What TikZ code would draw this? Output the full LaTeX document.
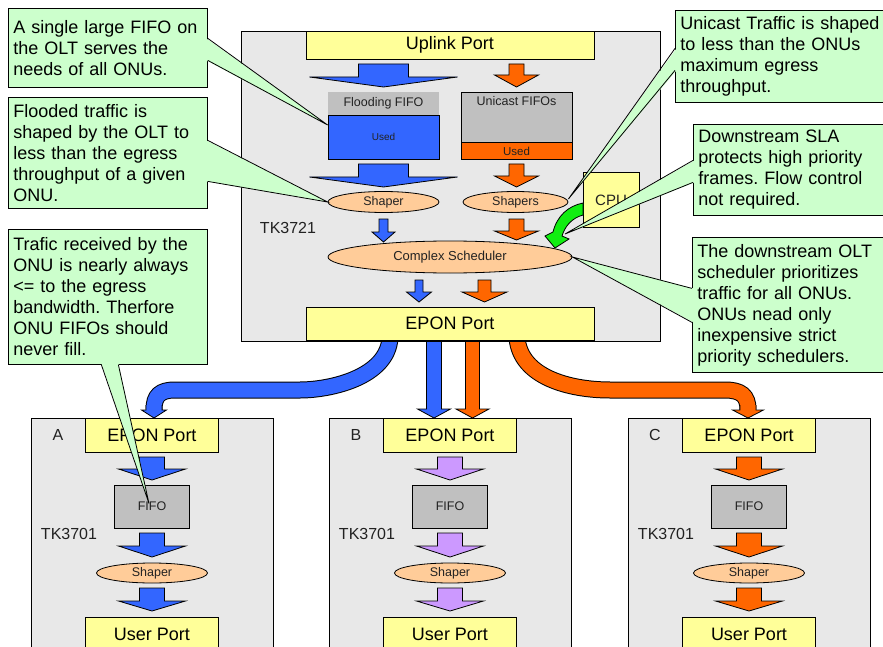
\documentclass[tikz,border=0pt]{standalone}
\usepackage{fontspec}
\setmainfont{Liberation Sans}
\usetikzlibrary{shapes.geometric,backgrounds}
\frenchspacing

\definecolor{chipgray}{HTML}{E8E8E8}
\definecolor{portyellow}{HTML}{FFFF99}
\definecolor{flowblue}{HTML}{3366FF}
\definecolor{floworange}{HTML}{FF6600}
\definecolor{flowpurple}{HTML}{CC99FF}
\definecolor{ovalpeach}{HTML}{FFCC99}
\definecolor{fifogray}{HTML}{C0C0C0}
\definecolor{notegreen}{HTML}{CCFFCC}
\definecolor{cpugreen}{HTML}{11EE11}
\definecolor{textgray}{HTML}{222222}

% flat block arrow: x, shaft half width, head half width, top, head base, tip, colour
\newcommand{\blockarrow}[7]{%
  \filldraw[fill=#7, draw=black] (#1-#2,#4) -- (#1+#2,#4) -- (#1+#2,#5) -- (#1+#3,#5)
    -- (#1,#6) -- (#1-#3,#5) -- (#1-#2,#5) -- cycle;}
% open arrow head on the end of a band: x, shaft half, head half, base, tip, colour
\newcommand{\tiphead}[6]{%
  \filldraw[fill=#6, draw=black] (#1-#2,#4-5) -- (#1-#2,#4) -- (#1-#3,#4) -- (#1,#5)
    -- (#1+#3,#4) -- (#1+#2,#4) -- (#1+#2,#4-5);}

\begin{document}
\begin{tikzpicture}[x=1pt, y=-1pt, line width=0.8pt,
  chip/.style={draw, fill=chipgray, inner sep=0pt},
  port/.style={draw, fill=portyellow, inner sep=0pt, font=\fontsize{18}{20}\selectfont},
  oval/.style={ellipse, draw, fill=ovalpeach, inner sep=0pt, text=textgray, font=\fontsize{12.5}{14}\selectfont},
  smalltxt/.style={inner sep=0pt, text=textgray, font=\fontsize{12.5}{14}\selectfont},
  tktxt/.style={inner sep=0pt, text=textgray, font=\fontsize{16}{18}\selectfont},
  note/.style={draw, fill=notegreen, anchor=north west, align=left, inner xsep=5pt, inner ysep=0pt, font=\fontsize{18}{21}\selectfont},
  bigflow/.style={draw=black, line width=1pt, double distance=15pt},
]
\useasboundingbox (0,0) rectangle (883,647);
\clip (0,0) rectangle (883,647);

% OLT
\node[chip, minimum width=419pt, minimum height=310pt] (olt) at (450.5,186) {};
\node[port, minimum width=288pt, minimum height=28pt] (uplink) at (450,45) {Uplink Port};
\node[port, minimum width=288pt, minimum height=33pt] (eponOLT) at (450,323.5) {EPON Port};
\node[tktxt] (oltname) at (288,228) {TK3721};

\node[fill=fifogray, minimum width=111pt, minimum height=23pt, smalltxt] (fifoF) at (383.5,103.5) {Flooding FIFO};
\node[draw, fill=flowblue, minimum width=111pt, minimum height=44pt, smalltxt, font=\fontsize{10}{12}\selectfont] (usedF) at (383.5,137) {Used};
\node[draw, fill=fifogray, minimum width=111pt, minimum height=67pt, anchor=north] (fifoU) at (516.5,92) {};
\node[smalltxt, anchor=north] (fifoUtext) at ([yshift=-4pt]fifoU.north) {Unicast FIFOs};
\node[draw, fill=floworange, minimum width=111pt, minimum height=17pt, anchor=south, smalltxt, font=\fontsize{11.5}{13}\selectfont] (usedU) at (fifoU.south) {Used};

\node[oval, minimum width=111pt, minimum height=21pt] (shapeF) at (383.5,202) {Shaper};
\node[oval, minimum width=105pt, minimum height=21pt] (shapeU) at (515.5,202) {Shapers};
\node[oval, minimum width=244pt, minimum height=32pt, font=\fontsize{13}{15}\selectfont] (sched) at (450,257) {Complex Scheduler};
\node[draw, fill=portyellow, minimum width=56pt, minimum height=55pt, inner sep=0pt, text=textgray, font=\fontsize{15}{17}\selectfont] (cpu) at (611,200) {CPU};

\blockarrow{383.5}{25}{74}{64}{77}{87}{flowblue}
\blockarrow{516.5}{7.5}{22}{64}{75}{87}{floworange}
\blockarrow{383.5}{25}{74}{164}{177}{187}{flowblue}
\blockarrow{516.5}{7.5}{22}{164}{176}{187}{floworange}
\blockarrow{383.5}{4.5}{11.5}{219}{232}{242}{flowblue}
\blockarrow{516.5}{7.5}{22}{219}{231}{240}{floworange}
\blockarrow{419}{4}{12.5}{280}{292}{302}{flowblue}
\blockarrow{484.5}{6.5}{22.5}{280}{292}{302}{floworange}

% CPU feeds the scheduler
\filldraw[fill=cpugreen, draw=black] (583,203) .. controls (568,206) and (557,216) .. (553,232)
  -- (545,236) -- (555,248) -- (569,239) -- (562,236) .. controls (565,226) and (572,218) .. (583,215) -- cycle;

% ONUs
\foreach \cx/\id/\tone in {152/A/flowblue, 450/B/flowpurple, 749/C/floworange}{
  \node[chip, minimum width=242pt, minimum height=250pt, anchor=north] (onu\id) at (\cx,418) {};
  \node[port, minimum width=133pt, minimum height=34pt] (epon\id) at (\cx,435) {EPON Port};
  \node[port, minimum width=133pt, minimum height=34pt] (user\id) at (\cx,634) {User Port};
  \node[draw, fill=fifogray, minimum width=75pt, minimum height=43pt, smalltxt] (fifo\id) at (\cx,506.5) {FIFO};
  \node[oval, minimum width=111pt, minimum height=20pt] (shaper\id) at (\cx,573) {Shaper};
  \node[tktxt] (tk\id) at (\cx-83,534) {TK3701};
  \node[tktxt] (tag\id) at (\cx-94,435) {\id};
  \blockarrow{\cx}{12.5}{33.5}{457}{469}{480}{\tone}
  \blockarrow{\cx}{12.5}{33.5}{533}{546}{557}{\tone}
  \blockarrow{\cx}{12.5}{33.5}{588}{601}{611}{\tone}
}

% downstream to the ONUs
\begin{scope}[on background layer]
\draw[bigflow, double=flowblue] ([xshift=-60pt,yshift=3pt]eponOLT.south) .. controls +(-2,40) and +(30,0) .. (300,390)
  -- (175,390) .. controls +(-15,0) and +(0,-14) .. ([xshift=2pt,yshift=8pt]eponA.north);
\draw[bigflow, double=floworange] ([xshift=67pt,yshift=3pt]eponOLT.south) .. controls +(3,40) and +(-40,0) .. (610,390)
  -- (725,390) .. controls +(16,0) and +(0,-14) .. ([xshift=-1pt,yshift=8pt]eponC.north);
\draw[bigflow, double=flowblue, double distance=14pt] ([xshift=-16pt,yshift=3pt]eponOLT.south) -- ([xshift=-16pt,yshift=9pt]eponB.north);
\draw[bigflow, double=floworange, double distance=13pt] ([xshift=22.5pt,yshift=3pt]eponOLT.south) -- ([xshift=22.5pt,yshift=9pt]eponB.north);
\end{scope}
\tiphead{154}{8}{12.5}{410}{418}{flowblue}
\tiphead{748}{8}{15.5}{410}{418}{floworange}
\tiphead{434}{7.5}{16.5}{409}{418}{flowblue}
\tiphead{472.5}{7}{16.5}{409}{418}{floworange}

% callouts
\node[note, text width=189pt, minimum height=79pt] (n1) at (8,8)
  {A single large FIFO on\\the OLT serves the\\needs of all ONUs.};
\node[note, text width=189pt, minimum height=111pt] (n2) at (8,97)
  {Flooded traffic is\\shaped by the OLT to\\less than the egress\\throughput of a given\\ONU.};
\node[note, text width=189pt, minimum height=135pt] (n3) at (8,229)
  {Trafic received by the\\ONU is nearly always\\<= to the egress\\bandwidth. Therfore\\ONU FIFOs should\\never fill.};
\node[note, text width=205pt, minimum height=92pt] (n4) at (675,10)
  {Unicast Traffic is shaped\\to less than the ONUs\\maximum egress\\throughput.};
\node[note, text width=190pt, minimum height=91pt] (n5) at (693,124)
  {Downstream SLA\\protects high priority\\frames. Flow control\\not required.};
\node[note, text width=190pt, minimum height=135pt] (n6) at (692,237)
  {The downstream OLT\\scheduler prioritizes\\traffic for all ONUs.\\ONUs nead only\\inexpensive strict\\priority schedulers.};
\coordinate (slatip) at (565,234);

\fill[notegreen] ([xshift=-1.5pt,yshift=9.5pt]n1.east) -- ([yshift=12pt]usedF.west) -- ([xshift=-1.5pt,yshift=-12.5pt]n1.east) -- cycle;
\draw ([yshift=9.5pt]n1.east) -- ([yshift=12pt]usedF.west) -- ([yshift=-12.5pt]n1.east);
\fill[notegreen] ([xshift=-1.5pt,yshift=12.5pt]n2.east) -- (shapeF.west) -- ([xshift=-1.5pt,yshift=-28.5pt]n2.east) -- cycle;
\draw ([yshift=12.5pt]n2.east) -- (shapeF.west) -- ([yshift=-28.5pt]n2.east);
\fill[notegreen] ([xshift=-6.5pt,yshift=1.5pt]n3.south) -- ([xshift=-3pt,yshift=3pt]fifoA.center) -- ([xshift=10.5pt,yshift=1.5pt]n3.south) -- cycle;
\draw ([xshift=-6.5pt]n3.south) -- ([xshift=-3pt,yshift=3pt]fifoA.center) -- ([xshift=10.5pt]n3.south);
\fill[notegreen] ([xshift=1.5pt,yshift=8pt]n4.west) -- ([yshift=3pt]shapeU.east) -- ([xshift=1.5pt,yshift=-14pt]n4.west) -- cycle;
\draw ([yshift=8pt]n4.west) -- ([yshift=3pt]shapeU.east) -- ([yshift=-14pt]n4.west);
\fill[notegreen] ([xshift=1.5pt,yshift=9.5pt]n5.west) -- (slatip) -- ([xshift=1.5pt,yshift=-12.5pt]n5.west) -- cycle;
\draw ([yshift=9.5pt]n5.west) -- (slatip) -- ([yshift=-12.5pt]n5.west);
\fill[notegreen] ([xshift=1.5pt,yshift=16.5pt]n6.west) -- (sched.east) -- ([xshift=1.5pt,yshift=-17.5pt]n6.west) -- cycle;
\draw ([yshift=16.5pt]n6.west) -- (sched.east) -- ([yshift=-17.5pt]n6.west);
\end{tikzpicture}
\end{document}
